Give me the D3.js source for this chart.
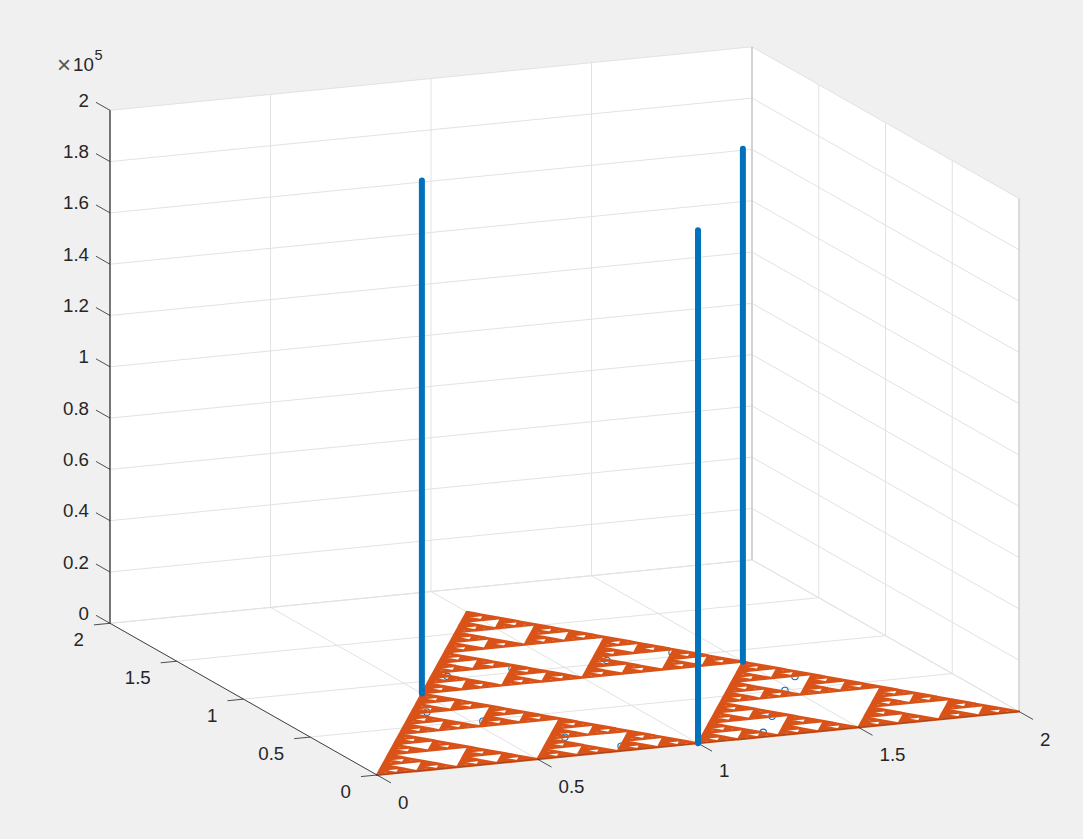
<!DOCTYPE html>
<html><head><meta charset="utf-8">
<script src="https://cdn.jsdelivr.net/npm/d3@7"></script>
<style>html,body{margin:0;padding:0;background:#f0f0f0;overflow:hidden}
text{font-family:"Liberation Sans",Arial,sans-serif;fill:#262626}</style></head>
<body><svg id="c" width="1083" height="839"></svg>
<script>
const xTicks=[0,0.5,1,1.5,2];
const yTicks=[0,0.5,1,1.5,2];
const zTicks=[0,20000,40000,60000,80000,100000,120000,140000,160000,180000,200000];
const zTickLabels=["0","0.2","0.4","0.6","0.8","1","1.2","1.4","1.6","1.8","2"];
const xTickLabels=["0","0.5","1","1.5","2"];
const yTickLabels=["0","0.5","1","1.5","2"];
const stemX=[0.5,1,1.5];
const stemY=[0.866,0,0.866];
const stemZ=[200000,200000,200000];
const dotX=[0.426,0.532,0.675,0.782,0.647,0.856,1.145,1.355,1.569,1.477,1.322,1.224];
const dotY=[0.65,0.486,0.216,0.052,1.03,1.047,1.031,1.048,0.642,0.496,0.22,0.05];
const cornerX=[0,2,1];
const cornerY=[0,0,1.732];
const gasketDepth=7;

const xPx=d3.scaleLinear().domain([0,2]).range([377,1019]);
const yPxX=d3.scaleLinear().domain([0,2]).range([0,-267]);
const xPxY=d3.scaleLinear().domain([0,2]).range([775,711.5]);
const yPxY=d3.scaleLinear().domain([0,2]).range([0,-151.7]);
const zPxY=d3.scaleLinear().domain([0,200000]).range([0,-513]);
const P=(x,y,z=0)=>[xPx(x)+yPxX(y), xPxY(x)+yPxY(y)+zPxY(z)];
const line=d3.line();
const svg=d3.select("#c");
const seg=(a,b,col,w=1,extra={})=>{const s=svg.append("path").attr("d",line([a,b])).attr("stroke",col).attr("stroke-width",w).attr("fill","none");for(const k in extra)s.attr(k,extra[k]);return s;};

// wall background
svg.append("path").attr("fill","#fff").attr("d",line([P(0,0),P(2,0),P(2,0,200000),P(2,2,200000),P(0,2,200000),P(0,2)])+"Z");

const grid="#e2e2e2";
xTicks.forEach(t=>{seg(P(t,0),P(t,2),grid);seg(P(t,2),P(t,2,200000),grid);});
yTicks.forEach(t=>{seg(P(0,t),P(2,t),grid);seg(P(2,t),P(2,t,200000),grid);});
zTicks.forEach(t=>{seg(P(0,2,t),P(2,2,t),grid);seg(P(2,2,t),P(2,0,t),grid);});
seg(P(2,2),P(2,2,200000),"#bdbdbd");
seg(P(2,0),P(2,0,200000),"#c8c8c8");

// low markers beneath the gasket
svg.append("g").selectAll("circle").data(dotX).join("circle")
 .attr("cx",(d,i)=>P(d,dotY[i])[0]).attr("cy",(d,i)=>P(d,dotY[i])[1]).attr("r",3.2)
 .attr("fill","none").attr("stroke","#0072BD").attr("stroke-width",1.1);

// gasket
const tris=[];
(function sub(a,b,c,n){
  if(n===0){tris.push([a,b,c]);return;}
  const m=(p,q)=>[(p[0]+q[0])/2,(p[1]+q[1])/2];
  const ab=m(a,b),bc=m(b,c),ca=m(c,a);
  sub(a,ab,ca,n-1);sub(ab,b,bc,n-1);sub(ca,bc,c,n-1);
})([cornerX[0],cornerY[0]],[cornerX[1],cornerY[1]],[cornerX[2],cornerY[2]],gasketDepth);
svg.append("path").attr("fill","#D95319").attr("stroke","#D95319").attr("stroke-width",2.2).attr("stroke-linejoin","round")
 .attr("d",tris.map(t=>line(t.map(p=>P(p[0],p[1])))+"Z").join(""));

// axes
const ax="#262626";
seg(P(0,0),P(0,2),ax,1,{"stroke-opacity":.85});
seg(P(0,2),P(0,2,200000),ax,1.2);
seg(P(0,0),P(2,0),ax,1,{"stroke-opacity":.3});
xTicks.forEach(t=>seg(P(t,0),P(t,-0.105),ax,1,{"stroke-opacity":.8}));
yTicks.forEach(t=>seg(P(0,t),P(-0.05,t),ax,1,{"stroke-opacity":.8}));
zTicks.forEach(t=>seg(P(0,2,t),P(0,2.105,t),ax,1,{"stroke-opacity":.8}));

// stems
svg.append("g").selectAll("path").data(stemX).join("path")
 .attr("d",(d,i)=>line([P(d,stemY[i]),P(d,stemY[i],stemZ[i])]))
 .attr("stroke","#0072BD").attr("stroke-width",6).attr("stroke-linecap","round").attr("fill","none");

// labels
const fs=18.7;
const label=(s,x,y,a="middle")=>svg.append("text").attr("x",x).attr("y",y).attr("text-anchor",a).attr("font-size",fs).text(s);
xTickLabels.forEach((s,i)=>{const p=P(xTicks[i],0);label(s,p[0]+21,p[1]+34,"start");});
yTickLabels.forEach((s,i)=>{const p=P(0,yTicks[i]);label(s,p[0]-26,p[1]+23,"end");});
zTickLabels.forEach((s,i)=>{const p=P(0,2,zTicks[i]);label(s,p[0]-21,p[1]-3.5,"end");});
svg.append("text").attr("x",57).attr("y",73).attr("font-size",24).style("fill","#555").text("\u00d7");
svg.append("text").attr("x",73).attr("y",70.5).attr("font-size",fs).text("10");
svg.append("text").attr("x",94.5).attr("y",60).attr("font-size",14.5).text("5");
</script></body></html>
